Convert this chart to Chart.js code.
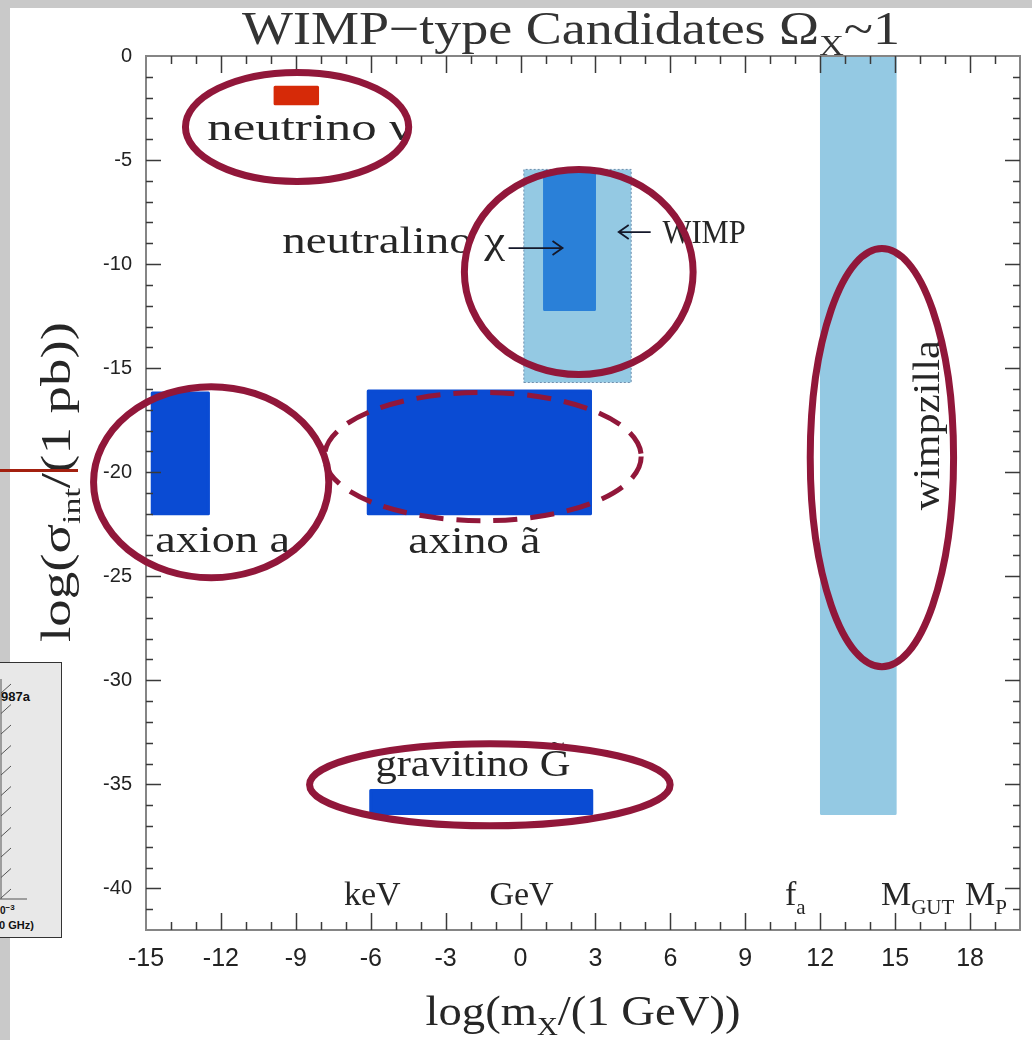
<!DOCTYPE html>
<html>
<head>
<meta charset="utf-8">
<title>WIMP-type Candidates</title>
<script src="https://cdn.jsdelivr.net/npm/chart.js@4.4.1/dist/chart.umd.min.js"></script>
<style>
  html, body { margin: 0; padding: 0; background: #fff; }
  #wrap { position: relative; width: 1032px; height: 1040px; overflow: hidden; background: #fff; }
  #chart { position: absolute; left: 0; top: 0; }
  .strip { position: absolute; background: #c9c9c9; }
  #redline { position: absolute; left: 0; top: 469px; width: 78px; height: 3px; background: #a3200f; }
  #inset { position: absolute; left: -1px; top: 662px; width: 61px; height: 274px;
           background: #e8e8e8; border: 1px solid #333; overflow: hidden;
           font-family: "Liberation Sans", Arial, sans-serif; font-weight: bold; color: #111; }
  #inset span { position: absolute; white-space: nowrap; }
</style>
</head>
<body>
<div id="wrap">
  <canvas id="chart" width="1032" height="1040"></canvas>
  <div class="strip" style="left:0;top:0;width:1032px;height:8px"></div>
  <div class="strip" style="left:0;top:0;width:10px;height:1040px"></div>
  <div id="redline"></div>
  <div id="inset">
    <svg id="hatch" width="61" height="274" style="position:absolute;left:0;top:0"></svg>
    <span style="left:1px;top:26px;font-size:13px">987a</span>
    <span style="left:0;top:240px;font-size:10px">0<sup style="font-size:8px">−3</sup></span>
    <span style="left:-1px;top:256px;font-size:11px">0 GHz)</span>
  </div>
</div>
<script>
// axis ranges: log10(m / GeV) and log10(sigma_int / pb)
const X_MIN = -15, X_MAX = 20;
const Y_MIN = -42, Y_MAX = 0;

// candidate regions
const regionNames    = ['neutrino', 'WIMP', 'neutralino', 'axion', 'axino', 'gravitino', 'wimpzilla'];
const regionMassLo   = [-9.83, 0.13, 0.96, -14.75, -6.1, -6.0, 12.05];
const regionMassHi   = [-8.13, 4.43, 2.96, -12.5, 2.8, 2.85, 15.0];
const regionSigmaLo  = [-2.3, -15.69, -12.18, -22.0, -22.0, -36.4, -36.4];
const regionSigmaHi  = [-1.5, -5.45, -5.56, -16.2, -16.1, -35.3, 0];
const regionColors   = ['#d62a08', '#94c9e3', '#2a80d8', '#0a4bd3', '#0a4bd3', '#0a4bd3', '#94c9e3'];
const regionLayer    = [1, 2, 1, 1, 1, 1, 2];

// text labels inside the plot
const labelText  = ['neutrino ν', 'neutralino χ', 'WIMP', 'axion a', 'axino ã', 'gravitino G\u0303', 'wimpzilla'];
const labelMass  = [-8.44, -5.08, 7.35, -11.93, -1.85, -1.91, 16.35];
const labelSigma = [-4.04, -9.47, -8.99, -23.85, -23.9, -34.6, -17.74];

// arrows next to neutralino / WIMP
const arrowFrom  = [-0.48, 5.21];
const arrowTo    = [1.68, 3.93];
const arrowSigma = [-9.23, -8.46];

// mass scale marks along the bottom
const markText = ['keV', 'GeV', 'f', 'M', 'M'];
const markSub  = ['', '', 'a', 'GUT', 'P'];
const markMass = [-5.94, 0.04, 11.0, 15.9, 18.64];
const markSigma = -40.82;

// hand-drawn rings (centre and radii in axis units)
const ringCx = [-8.95, 2.33, -12.39, -1.51, 14.47, -1.23];
const ringCy = [-3.41, -10.38, -20.48, -19.25, -19.3, -35.02];
const ringRx = [4.47, 4.58, 4.71, 6.34, 2.87, 7.22];
const ringRy = [2.62, 4.93, 4.59, 3.08, 10.05, 1.97];
const ringDashed = [false, false, false, true, false, false];

const SERIF = '"Liberation Serif", "DejaVu Serif", serif';
const INK = '#262626';

// little inset hatch from the neighbouring figure
(function () {
  const svg = document.getElementById('hatch');
  let s = '<line x1="1" y1="16" x2="1" y2="236" stroke="#555" stroke-width="1"/>';
  for (let k = 0; k < 11; k++) {
    const y = 30 + k * 20.5;
    s += `<line x1="1" y1="${y}" x2="11" y2="${y - 9}" stroke="#555" stroke-width="1"/>`;
  }
  s += '<line x1="0" y1="236" x2="27" y2="236" stroke="#555" stroke-width="1"/>';
  svg.innerHTML = s;
})();

// text with optional subscripts, squeezed/stretched to a given width
function drawRich(ctx, parts, x, y, o) {
  ctx.save();
  ctx.translate(x, y);
  if (o.rotate) ctx.rotate(o.rotate);
  const big = `${o.size}px ${SERIF}`;
  const small = `${Math.round(o.size * (o.subRatio || 0.62))}px ${SERIF}`;
  let w = 0;
  parts.forEach(([t, sub]) => { ctx.font = sub ? small : big; w += ctx.measureText(t).width; });
  const sx = o.width ? o.width / w : (o.stretch || 1);
  ctx.scale(sx, 1);
  let cx = o.align === 'left' ? 0 : -w / 2;
  ctx.textAlign = 'left';
  ctx.textBaseline = o.baseline || 'alphabetic';
  ctx.fillStyle = o.color || INK;
  parts.forEach(([t, sub]) => {
    ctx.font = sub ? small : big;
    ctx.fillText(t, cx, sub ? o.size * 0.24 : 0);
    cx += ctx.measureText(t).width;
  });
  ctx.restore();
}

const datasets = regionNames.map((name, i) => ({
  label: name,
  data: [
    { x: regionMassLo[i], y: regionSigmaLo[i] },
    { x: regionMassHi[i], y: regionSigmaLo[i] },
    { x: regionMassHi[i], y: regionSigmaHi[i] },
    { x: regionMassLo[i], y: regionSigmaHi[i] },
    { x: regionMassLo[i], y: regionSigmaLo[i] }
  ],
  showLine: true,
  fill: 'shape',
  tension: 0,
  pointRadius: 0,
  backgroundColor: regionColors[i],
  borderColor: name === 'WIMP' ? '#6f8fae' : regionColors[i],
  borderWidth: name === 'WIMP' ? 1 : 3,
  borderDash: name === 'WIMP' ? [2, 2] : [],
  borderJoinStyle: 'round',
  order: regionLayer[i]
}));

const decorations = {
  id: 'decorations',
  afterDatasetsDraw(chart) {
    const ctx = chart.ctx;
    const xs = chart.scales.x, ys = chart.scales.y;
    const { left, right, top, bottom } = chart.chartArea;

    // frame
    ctx.save();
    ctx.strokeStyle = '#858585';
    ctx.lineWidth = 2;
    ctx.strokeRect(left, top, right - left, bottom - top);

    // inward ticks on all four sides
    ctx.strokeStyle = '#3a3a3a';
    ctx.lineWidth = 1.5;
    ctx.beginPath();
    for (let v = X_MIN + 1; v < X_MAX; v++) {
      const px = Math.round(xs.getPixelForValue(v)) + 0.5;
      const len = v % 3 === 0 ? 17 : 8;
      ctx.moveTo(px, bottom); ctx.lineTo(px, bottom - len);
      ctx.moveTo(px, top); ctx.lineTo(px, top + len);
    }
    for (let v = Y_MIN + 1; v < Y_MAX; v++) {
      const py = Math.round(ys.getPixelForValue(v)) + 0.5;
      const len = v % 5 === 0 ? 15 : 7;
      ctx.moveTo(left, py); ctx.lineTo(left + len, py);
      ctx.moveTo(right, py); ctx.lineTo(right - len, py);
    }
    ctx.stroke();
    ctx.restore();

    // region labels
    const labelWidth = [205, 223, 83, 135, 132, 195, 170];
    const labelSize  = [37, 37, 34, 37, 37, 37, 37];
    labelText.forEach((t, i) => {
      const px = xs.getPixelForValue(labelMass[i]);
      const py = ys.getPixelForValue(labelSigma[i]);
      if (t === 'wimpzilla') {
        drawRich(ctx, [[t, false]], px, py, { size: labelSize[i], width: labelWidth[i], rotate: -Math.PI / 2, baseline: 'middle' });
      } else {
        drawRich(ctx, [[t, false]], px, py, { size: labelSize[i], width: labelWidth[i] });
      }
    });

    // arrows
    ctx.save();
    ctx.strokeStyle = '#14182a';
    ctx.lineWidth = 1.8;
    arrowFrom.forEach((a, i) => {
      const x0 = xs.getPixelForValue(a), x1 = xs.getPixelForValue(arrowTo[i]);
      const py = ys.getPixelForValue(arrowSigma[i]);
      const d = Math.sign(x1 - x0);
      ctx.beginPath();
      ctx.moveTo(x0, py); ctx.lineTo(x1, py);
      ctx.moveTo(x1 - d * 10, py - 7); ctx.lineTo(x1, py); ctx.lineTo(x1 - d * 10, py + 7);
      ctx.stroke();
    });
    ctx.restore();

    // mass scale marks
    const my = ys.getPixelForValue(markSigma);
    markText.forEach((t, i) => {
      const parts = markSub[i] ? [[t, false], [markSub[i], true]] : [[t, false]];
      drawRich(ctx, parts, xs.getPixelForValue(markMass[i]), my, { size: 34, subRatio: 0.62 });
    });

    // rings
    ctx.save();
    ctx.strokeStyle = '#91173a';
    ringCx.forEach((c, i) => {
      const px = xs.getPixelForValue(c), py = ys.getPixelForValue(ringCy[i]);
      const rx = Math.abs(xs.getPixelForValue(c + ringRx[i]) - px);
      const ry = Math.abs(ys.getPixelForValue(ringCy[i] + ringRy[i]) - py);
      ctx.lineWidth = ringDashed[i] ? 5 : 7;
      ctx.setLineDash(ringDashed[i] ? [24, 13] : []);
      ctx.beginPath();
      ctx.ellipse(px, py, rx, ry, 0, 0, Math.PI * 2);
      ctx.stroke();
    });
    ctx.restore();
  },
  afterDraw(chart) {
    const ctx = chart.ctx;
    // title and axis titles
    drawRich(ctx, [['WIMP\u2212type Candidates Ω', false], ['X', true], ['~1', false]],
      571, 44, { size: 46, width: 658, color: '#333' });
    drawRich(ctx, [['log(m', false], ['X', true], ['/(1 GeV))', false]],
      583, 1025, { size: 42, width: 315 });
    drawRich(ctx, [['log(σ', false], ['int', true], ['/(1 pb))', false]],
      70, 482, { size: 42, width: 320, rotate: -Math.PI / 2 });
  }
};

new Chart(document.getElementById('chart'), {
  type: 'scatter',
  data: { datasets },
  options: {
    responsive: false,
    devicePixelRatio: 1,
    animation: false,
    events: [],
    layout: { padding: { left: 0, top: 56, right: 12, bottom: 0 } },
    plugins: {
      legend: { display: false },
      title: { display: false },
      tooltip: { enabled: false }
    },
    scales: {
      x: {
        type: 'linear',
        min: X_MIN, max: X_MAX,
        border: { display: false },
        grid: { display: false, drawTicks: false },
        ticks: {
          stepSize: 3,
          includeBounds: false,
          autoSkip: false,
          maxRotation: 0,
          padding: 14,
          color: '#222',
          font: { family: '"Liberation Sans Narrow", "Liberation Sans", sans-serif', size: 25 }
        },
        afterFit(scale) { scale.height = 110; }
      },
      y: {
        type: 'linear',
        min: Y_MIN, max: Y_MAX,
        border: { display: false },
        grid: { display: false, drawTicks: false },
        ticks: {
          stepSize: 5,
          includeBounds: false,
          autoSkip: false,
          padding: 14,
          color: '#222',
          font: { family: '"Liberation Sans", Arial, sans-serif', size: 20 }
        },
        afterFit(scale) { scale.width = 146; }
      }
    }
  },
  plugins: [decorations]
});
</script>
</body>
</html>
